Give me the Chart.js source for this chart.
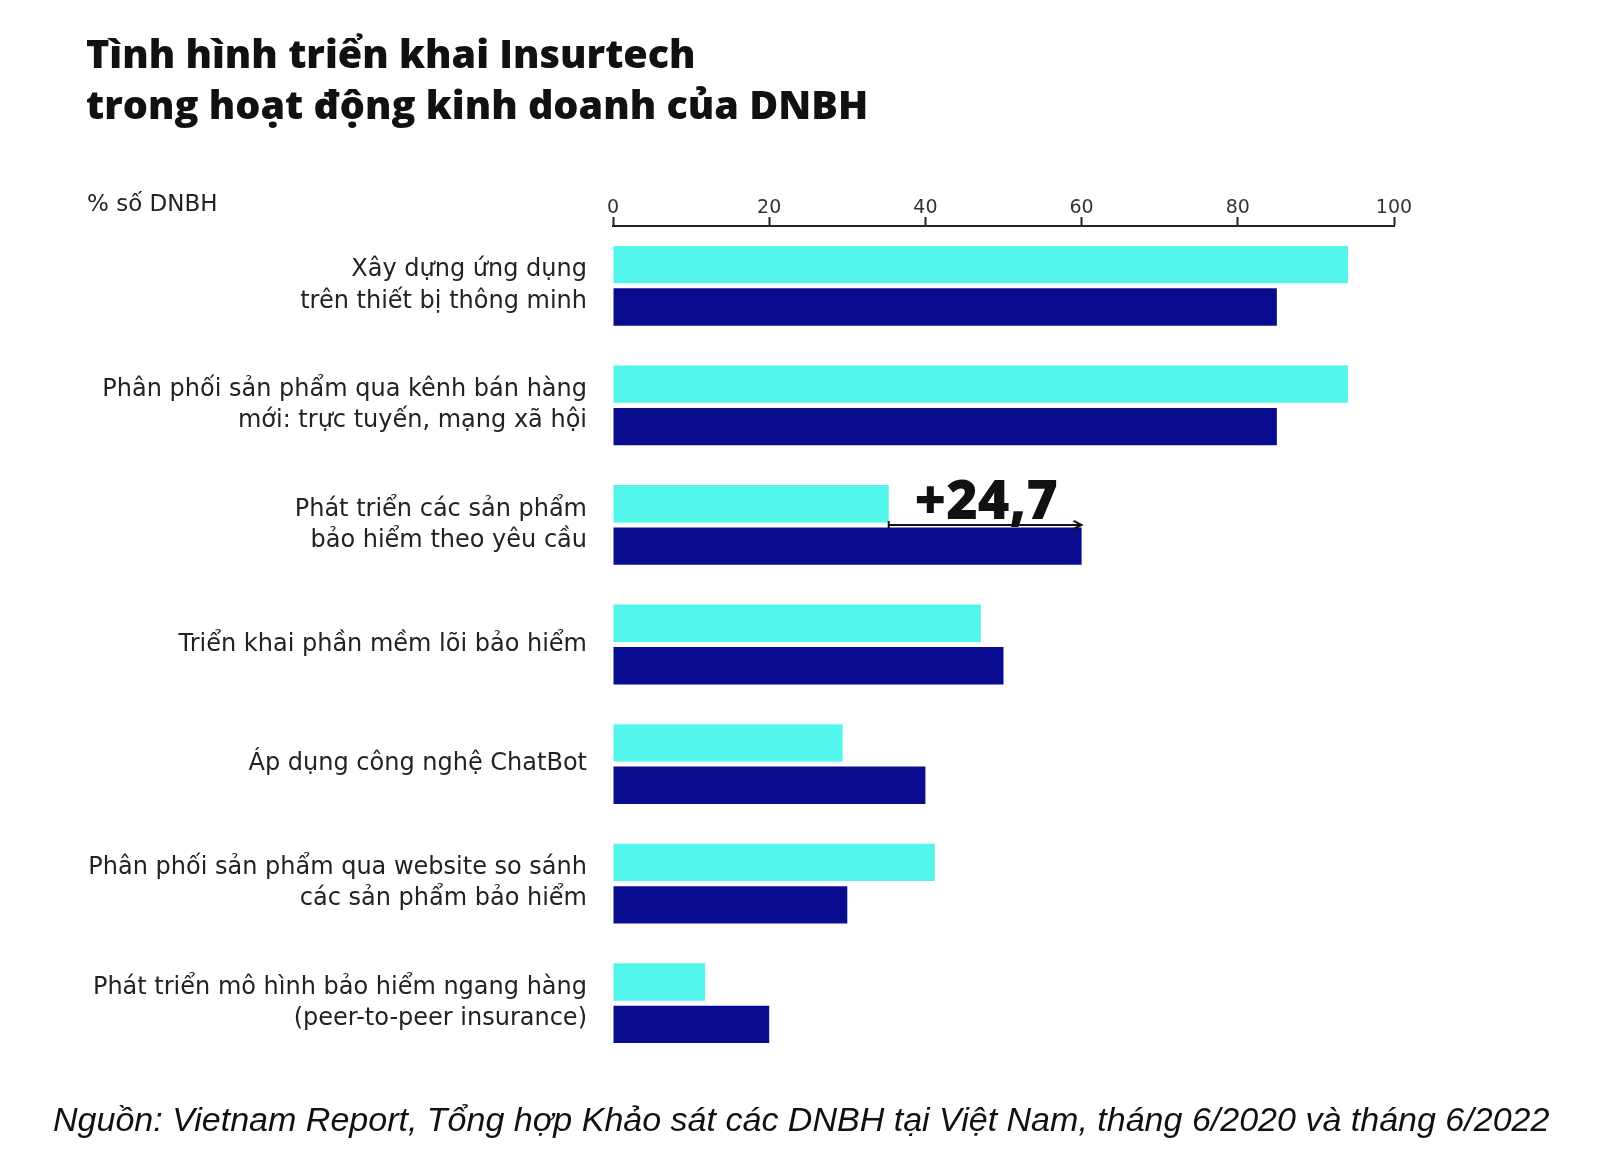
<!DOCTYPE html>
<html>
<head>
<meta charset="utf-8">
<script src="https://cdn.jsdelivr.net/npm/chart.js@4.4.0/dist/chart.umd.min.js"></script>
<style>
  body { margin: 0; background: #fff; }
  #wrap { position: relative; width: 1600px; height: 1161px; overflow: hidden; }
  #chart { position: absolute; left: 0; top: 0; }
  #title { position: absolute; left: 86px; top: 27px; font-family: "Open Sans", sans-serif; font-weight: 800;
           font-size: 39px; line-height: 51px; color: #111; white-space: nowrap; transform-origin: 0 0; }
  #unit { position: absolute; left: 87px; top: 190px; font-family: "DejaVu Sans", sans-serif; font-size: 23px; color: #222; }
  #source { position: absolute; left: 53px; top: 1100px; font-family: "Liberation Sans Narrow", "Liberation Sans", sans-serif;
            font-style: italic; font-size: 34px; color: #111; white-space: nowrap; transform-origin: 0 0; }
</style>
</head>
<body>
<div id="wrap">
  <canvas id="chart" width="1600" height="1161"></canvas>
  <div id="title">Tình hình triển khai Insurtech<br>trong hoạt động kinh doanh của DNBH</div>
  <div id="unit">% số DNBH</div>
  <div id="source">Nguồn: Vietnam Report, Tổng hợp Khảo sát các DNBH tại Việt Nam, tháng 6/2020 và tháng 6/2022</div>
</div>
<script>
const categories = [
  ["Xây dựng ứng dụng", "trên thiết bị thông minh"],
  ["Phân phối sản phẩm qua kênh bán hàng", "mới: trực tuyến, mạng xã hội"],
  ["Phát triển các sản phẩm", "bảo hiểm theo yêu cầu"],
  "Triển khai phần mềm lõi bảo hiểm",
  "Áp dụng công nghệ ChatBot",
  ["Phân phối sản phẩm qua website so sánh", "các sản phẩm bảo hiểm"],
  ["Phát triển mô hình bảo hiểm ngang hàng", "(peer-to-peer insurance)"]
];
const values2020 = [94.1, 94.1, 35.3, 47.1, 29.4, 41.2, 11.8];
const values2022 = [85, 85, 60, 50, 40, 30, 20];
const xTicks = [0, 20, 40, 60, 80, 100];
const highlightIndex = 2;

// stretch title and source to the widths they have in the picture
const title = document.getElementById("title");
title.style.transform = `scaleX(${782 / title.scrollWidth})`;
const src = document.getElementById("source");
src.style.transform = `scaleX(${1496 / src.scrollWidth})`;

// the "+24,7" arrow between the two bars of one category
const diffArrow = {
  id: 'diffArrow',
  afterDatasetsDraw(chart) {
    const c = chart.ctx;
    const x = chart.scales.x;
    const m0 = chart.getDatasetMeta(0).data[highlightIndex];
    const m1 = chart.getDatasetMeta(1).data[highlightIndex];
    const x0 = x.getPixelForValue(values2020[highlightIndex]);
    const x1 = x.getPixelForValue(values2022[highlightIndex]);
    const y = (m0.y + m0.height / 2 + m1.y - m1.height / 2) / 2;
    c.save();
    c.strokeStyle = '#111';
    c.fillStyle = '#111';
    c.lineWidth = 2;
    c.beginPath();
    c.moveTo(x0, y - 4); c.lineTo(x0, y + 4);
    c.moveTo(x0, y); c.lineTo(x1 - 2, y);
    c.moveTo(x1 - 8, y - 4); c.lineTo(x1, y); c.lineTo(x1 - 8, y + 4);
    c.stroke();
    const diff = (values2022[highlightIndex] - values2020[highlightIndex]).toFixed(1).replace('.', ',');
    c.font = '800 54px "Open Sans", sans-serif';
    c.textAlign = 'center';
    c.textBaseline = 'alphabetic';
    c.fillText('+' + diff, (x0 + x1) / 2 + 1, y - 6);
    c.restore();
  }
};

new Chart(document.getElementById('chart').getContext('2d'), {
  type: 'bar',
  data: {
    labels: categories,
    datasets: [
      { label: '2020', data: values2020, backgroundColor: '#52F5EA', categoryPercentage: 0.71, barPercentage: 0.88 },
      { label: '2022', data: values2022, backgroundColor: '#0A0C8F', categoryPercentage: 0.71, barPercentage: 0.88 }
    ]
  },
  options: {
    indexAxis: 'y',
    responsive: false,
    animation: false,
    layout: { padding: { left: 0, right: 206, top: 180, bottom: 98 } },
    plugins: { legend: { display: false }, tooltip: { enabled: false } },
    scales: {
      x: {
        position: 'top',
        min: 0, max: 100,
        afterBuildTicks(scale) { scale.ticks = xTicks.map(v => ({ value: v })); },
        afterFit(scale) { scale.height = 46; },
        grid: { drawOnChartArea: false, drawTicks: true, tickLength: 9, tickColor: '#222', tickWidth: 2 },
        border: { display: true, color: '#222', width: 2 },
        ticks: { color: '#333', padding: -2, font: { family: 'DejaVu Sans', size: 19 } }
      },
      y: {
        afterFit(scale) { scale.width = 613; },
        grid: { display: false, drawTicks: false },
        border: { display: false },
        ticks: { color: '#222', padding: 26, font: { family: 'DejaVu Sans', size: 24, lineHeight: 1.3 } }
      }
    }
  },
  plugins: [diffArrow]
});
</script>
</body>
</html>
